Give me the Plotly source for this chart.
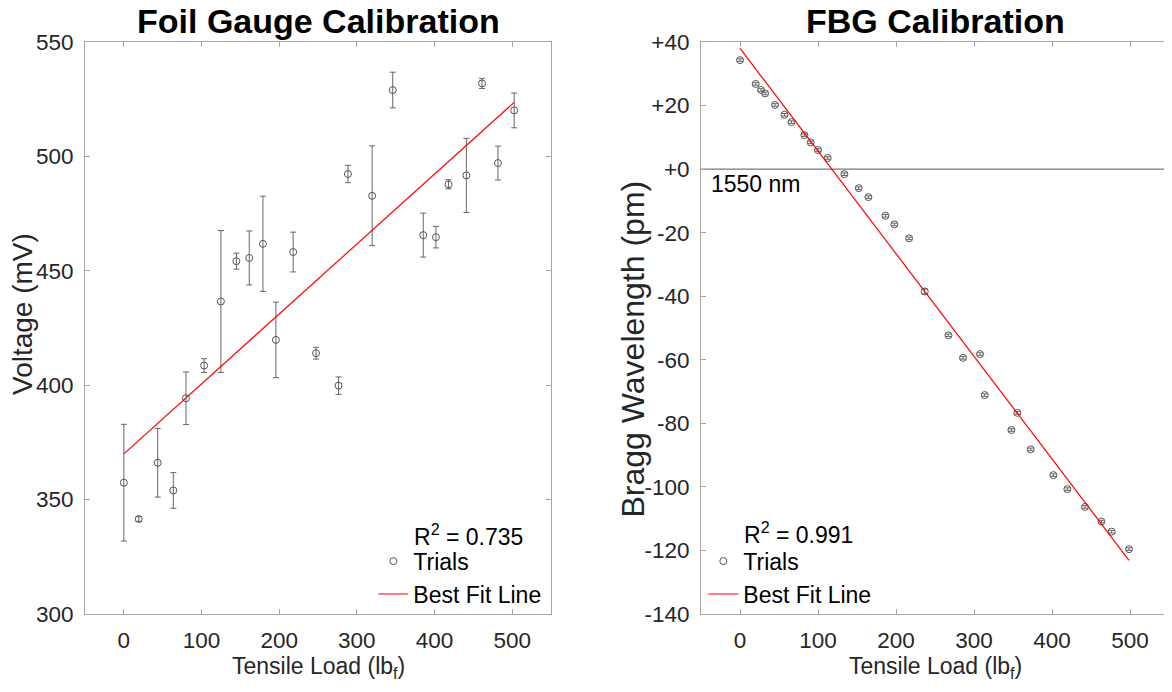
import plotly.graph_objects as go

# ---------------- Foil gauge data ----------------
foil_load = [0, 19.2, 43.6, 63.7, 80, 103.4, 125, 144.9, 161.5, 179.1, 195.8, 218,
             247.5, 276.5, 288.5, 319.7, 346.2, 385.5, 401.8, 418, 441, 461.2, 481.7, 502.6]
foil_mv = [357.4, 341.5, 366.1, 354.0, 394.3, 408.6, 436.6, 454.2, 455.6, 461.8, 419.8, 458.2,
           414.0, 399.8, 492.3, 482.8, 529.0, 465.6, 464.7, 487.8, 491.7, 531.9, 497.1, 520.1]
foil_err = [25.5, 1.0, 15.0, 7.8, 11.5, 3.0, 31.0, 3.5, 11.8, 20.8, 16.5, 8.7,
            2.6, 3.8, 3.8, 21.8, 7.8, 9.6, 4.7, 2.0, 16.2, 2.2, 7.4, 7.6]
foil_fit_load = [0, 502.6]
foil_fit_mv = [370.0, 523.6]
foil_r2 = "0.735"

# ---------------- FBG data ----------------
fbg_load = [0, 20.1, 26.9, 32.1, 44.9, 56.9, 65.9, 82.6, 90.6, 100, 112.4, 133.8, 152.2,
            164.6, 186.4, 197.9, 216.7, 236.8, 267.2, 285.9, 307.7, 313.7, 347.9, 355.6,
            372.7, 401.8, 419.7, 442.3, 463.3, 476.5, 498.7]
fbg_pm = [34.3, 26.8, 24.9, 23.8, 20.2, 17.1, 14.8, 10.7, 8.4, 6.0, 3.5, -1.6, -6.0,
          -8.8, -14.7, -17.4, -21.8, -38.5, -52.3, -59.4, -58.2, -71.1, -82.1, -76.7,
          -88.2, -96.3, -100.7, -106.3, -110.9, -114.1, -119.6]
fbg_err = [0.4, 0.4, 0.4, 0.4, 0.4, 0.4, 0.4, 0.4, 0.4, 0.4, 0.4, 0.4, 0.4,
           0.4, 0.4, 0.4, 0.4, 0.8, 0.4, 0.4, 0.4, 0.4, 0.4, 0.4,
           0.4, 0.4, 0.4, 0.4, 0.4, 0.4, 0.4]
fbg_fit_load = [0, 498.7]
fbg_fit_pm = [38.0, -123.1]
fbg_r2 = "0.991"

x_ticks = [0, 100, 200, 300, 400, 500]
foil_yticks = [300, 350, 400, 450, 500, 550]
fbg_yticks = [40, 20, 0, -20, -40, -60, -80, -100, -120, -140]
fbg_yticktext = ["+40", "+20", "+0", "-20", "-40", "-60", "-80", "-100", "-120", "-140"]

FONT = "Arial, Liberation Sans, Helvetica, sans-serif"
AXC = "#a6a6a6"
TXT = "#262626"
MK = "#555555"

fig = go.Figure()

fig.add_trace(go.Scatter(
    x=foil_load, y=foil_mv, mode="markers", name="Trials",
    marker=dict(symbol="circle-open", size=7, color=MK, line=dict(width=1)),
    error_y=dict(type="data", array=foil_err, color="#666666", thickness=1, width=3),
    xaxis="x", yaxis="y", legend="legend"))
fig.add_trace(go.Scatter(
    x=foil_fit_load, y=foil_fit_mv, mode="lines", name="Best Fit Line",
    line=dict(color="#ff0000", width=1.2), xaxis="x", yaxis="y", legend="legend"))

fig.add_trace(go.Scatter(
    x=fbg_load, y=fbg_pm, mode="markers", name="Trials",
    marker=dict(symbol="circle-open", size=7, color=MK, line=dict(width=1)),
    error_y=dict(type="data", array=fbg_err, color="#666666", thickness=1, width=3),
    xaxis="x2", yaxis="y2", legend="legend2"))
fig.add_trace(go.Scatter(
    x=fbg_fit_load, y=fbg_fit_pm, mode="lines", name="Best Fit Line",
    line=dict(color="#ff0000", width=1.2), xaxis="x2", yaxis="y2", legend="legend2"))

axis_common = dict(showline=True, mirror="ticks", linecolor=AXC, linewidth=1,
                   ticks="inside", ticklen=5, tickcolor=AXC, showgrid=False,
                   zeroline=False, automargin=False,
                   tickfont=dict(family=FONT, size=22.5, color=TXT))

legend_common = dict(font=dict(family=FONT, size=23, color="black"),
                     bgcolor="rgba(0,0,0,0)", borderwidth=0, xanchor="left",
                     yanchor="top", itemwidth=30, tracegroupgap=0)

# page body has an 8px margin: figure is sized/offset to compensate
fig.update_layout(
    width=1164, height=684,
    margin=dict(l=77, r=3, t=34, b=78, autoexpand=False),
    paper_bgcolor="white", plot_bgcolor="white",
    font=dict(family=FONT),
    xaxis=dict(domain=[0, 0.4299], range=[-50, 550], tickvals=x_ticks,
               anchor="y", ticklabelstandoff=6, **axis_common),
    yaxis=dict(domain=[0, 1], range=[300, 550], tickvals=foil_yticks,
               anchor="x", ticklabelstandoff=6, **axis_common),
    xaxis2=dict(domain=[0.5683, 1], range=[-50, 550], tickvals=x_ticks,
                anchor="y2", ticklabelstandoff=6, **axis_common),
    yaxis2=dict(domain=[0, 1], range=[-140, 40], tickvals=fbg_yticks,
                ticktext=fbg_yticktext, anchor="x2", ticklabelstandoff=6, **axis_common),
    legend=dict(x=0.266, y=0.130, **legend_common),
    legend2=dict(x=0.5704, y=0.130, **legend_common),
    showlegend=True,
)

# zero reference line (1550 nm)
fig.add_shape(type="line", xref="x2 domain", x0=0, x1=1, yref="y2", y0=0, y1=0,
              line=dict(color="#555555", width=1), layer="below")

ann = []
ann.append(dict(text="<b>Foil Gauge Calibration</b>", xref="x domain", x=0.5,
                yref="y domain", y=1 + (42 - 21) / 572, yanchor="middle", xanchor="center",
                showarrow=False, font=dict(family=FONT, size=34, color="black")))
ann.append(dict(text="<b>FBG Calibration</b>", xref="x2 domain", x=0.5,
                yref="y2 domain", y=1 + (42 - 21) / 572, yanchor="middle", xanchor="center",
                showarrow=False, font=dict(family=FONT, size=34, color="black")))
ann.append(dict(text="Voltage (mV)", textangle=-90, xref="paper", x=(22 - 85) / 1084,
                yref="paper", y=(614 - 314) / 572, xanchor="center", yanchor="middle",
                showarrow=False, font=dict(family=FONT, size=28, color=TXT)))
ann.append(dict(text="Bragg Wavelength (pm)", textangle=-90, xref="paper", x=(632 - 85) / 1084,
                yref="paper", y=(614 - 349.5) / 572, xanchor="center", yanchor="middle",
                showarrow=False, font=dict(family=FONT, size=32, color=TXT)))
for xr in ["x domain", "x2 domain"]:
    ann.append(dict(text="Tensile Load (lb<sub>f</sub>)", xref=xr, x=0.5,
                    yref="paper", y=(614 - 667) / 572, xanchor="center", yanchor="middle",
                    showarrow=False, font=dict(family=FONT, size=23, color=TXT)))
ann.append(dict(text="R<sup>2</sup> = " + foil_r2, xref="x domain", x=(412 - 85) / 466,
                yref="y domain", y=(614 - 535) / 572, xanchor="left", yanchor="middle",
                showarrow=False, font=dict(family=FONT, size=23, color="black")))
ann.append(dict(text="R<sup>2</sup> = " + fbg_r2, xref="x2 domain", x=(742 - 701) / 468,
                yref="y2 domain", y=(614 - 533) / 572, xanchor="left", yanchor="middle",
                showarrow=False, font=dict(family=FONT, size=23, color="black")))
ann.append(dict(text="1550 nm", xref="x2 domain", x=(709 - 701) / 468,
                yref="y2", y=0, xanchor="left", yanchor="top",
                showarrow=False, font=dict(family=FONT, size=23, color="black")))
fig.update_layout(annotations=ann)

fig.write_html("out.html")
